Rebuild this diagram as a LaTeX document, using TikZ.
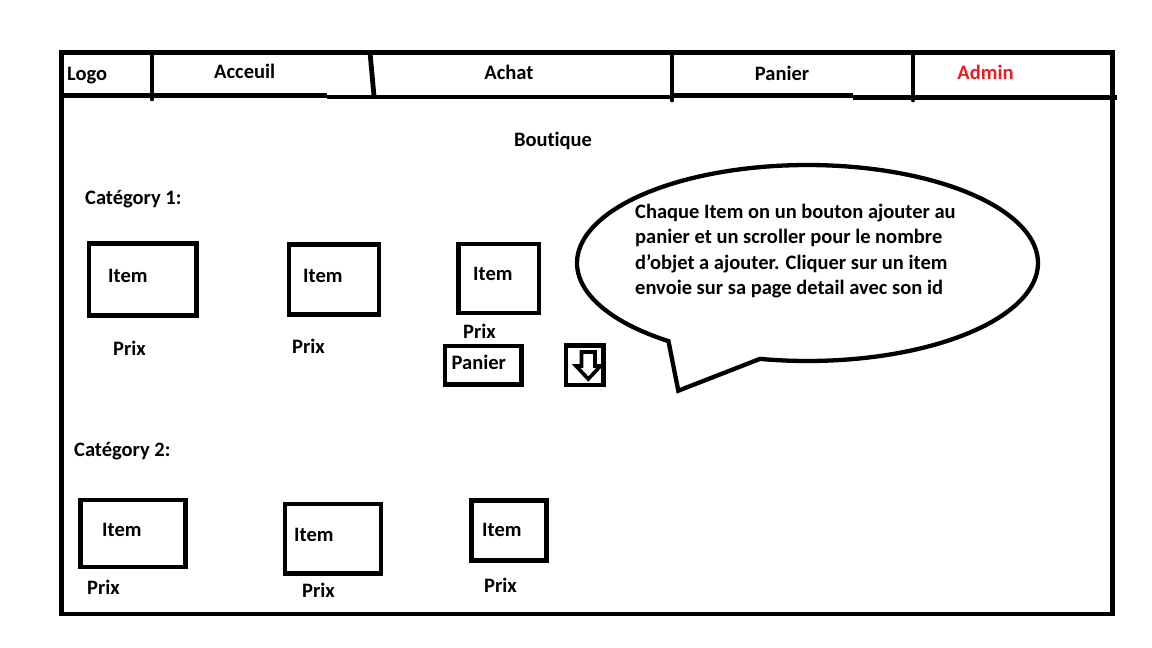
\documentclass[tikz,border=0pt]{standalone}
\usepackage{fontspec}
\setmainfont{Carlito}[Ligatures=ResetAll, RawFeature={-liga}]
\definecolor{paintred}{RGB}{237,28,36}
\begin{document}
\begin{tikzpicture}[x=1pt,y=-1pt,
  frame/.style={line width=4.8pt},
  box/.style={line width=4.6pt, line join=miter},
  lbl/.style={inner sep=0pt, font=\fontsize{20.5}{25.3}\selectfont\bfseries},
  lblw/.style={lbl, anchor=base west},
  lblc/.style={lbl, anchor=base}]
\useasboundingbox[fill=white] (0,0) rectangle (1152,648);

% outer frame
\draw[frame] (61.5,52.5) -- (1112.5,52.5) -- (1112.5,614) -- (61.5,614) -- cycle;
% nav bottom line
\draw[frame] (61.5,95.5) -- (327,95.5);
\draw[frame] (327,97) -- (672,97);
\draw[frame] (672,95.5) -- (853,95.5);
\draw[frame] (853,97.5) -- (1117,97.5);
% nav dividers
\draw[frame, line cap=round] (152,52.5) -- (152,99);
\draw[frame] (370,52.5) -- (374,96);
\draw[frame, line cap=round] (672,52.5) -- (672,100);
\draw[frame, line cap=round] (913,52.5) -- (913,100);

% nav labels
\node[lblw] (logo) at (67,80.5) {Logo};
\node[lblw] (acceuil) at (214,78) {Acceuil};
\node[lblc] (achat) at (509,79) {Achat};
\node[lblc] (paniernav) at (782,80) {Panier};
\node[lblc, text=paintred] (admin) at (985.5,79) {Admin};

\node[lblc] (boutique) at (553,146.5) {Boutique};

% category 1
\node[lblw] (cat1) at (85,204) {Catégory 1:};
\draw[box] (89,243.5) rectangle (196.5,315.3);
\node[lblw] (item1) at (108,282.5) {Item};
\node[lblw] (prix1) at (113,355) {Prix};
\draw[box] (289,244.5) rectangle (379,314.5);
\node[lblw] (item2) at (303,282) {Item};
\node[lblw] (prix2) at (292,353) {Prix};
\draw[box] (458.5,244) rectangle (539,313);
\node[lblw] (item3) at (473,280) {Item};
\node[lblw] (prix3) at (463,338) {Prix};

% panier button
\draw[box, line width=4.4pt] (445,346) rectangle (521.5,384.5);
\node[lblw] (panierbtn) at (451.5,369.5) {Panier};

% scroller arrow button
\draw[box] (566,345.5) rectangle (603.5,385);
\draw[line width=3.6pt, line join=miter] (581.5,352) -- (595,352) -- (595,366) -- (600.5,366) -- (588.3,379) -- (576,366) -- (581.5,366) -- cycle;

% category 2
\node[lblw] (cat2) at (74,456) {Catégory 2:};
\draw[box] (80.5,500) rectangle (185.5,567);
\node[lblw] (item4) at (102,536.7) {Item};
\node[lblw] (prix4) at (87,594) {Prix};
\draw[box] (285,504) rectangle (381,573.5);
\node[lblw] (item5) at (294,541) {Item};
\node[lblw] (prix5) at (302,597.5) {Prix};
\draw[box] (471.5,500.5) rectangle (546.5,560.5);
\node[lblw] (item6) at (482,536.7) {Item};
\node[lblw] (prix6) at (484,592) {Prix};

% speech bubble
\draw[line width=4.3pt, line join=miter]
  plot[domain=127.1:461.9, samples=150] ({807.5+230.5*cos(\x)},{263+98*sin(\x)})
  -- (678.3,390.7) -- cycle;
\node[lbl, anchor=base west, align=left] (note) at (635,294.4)
  {Chaque Item on un bouton ajouter au\\panier et un scroller pour le nombre\\d'objet a ajouter. Cliquer sur un item\\envoie sur sa page detail avec son id};
\end{tikzpicture}
\end{document}
